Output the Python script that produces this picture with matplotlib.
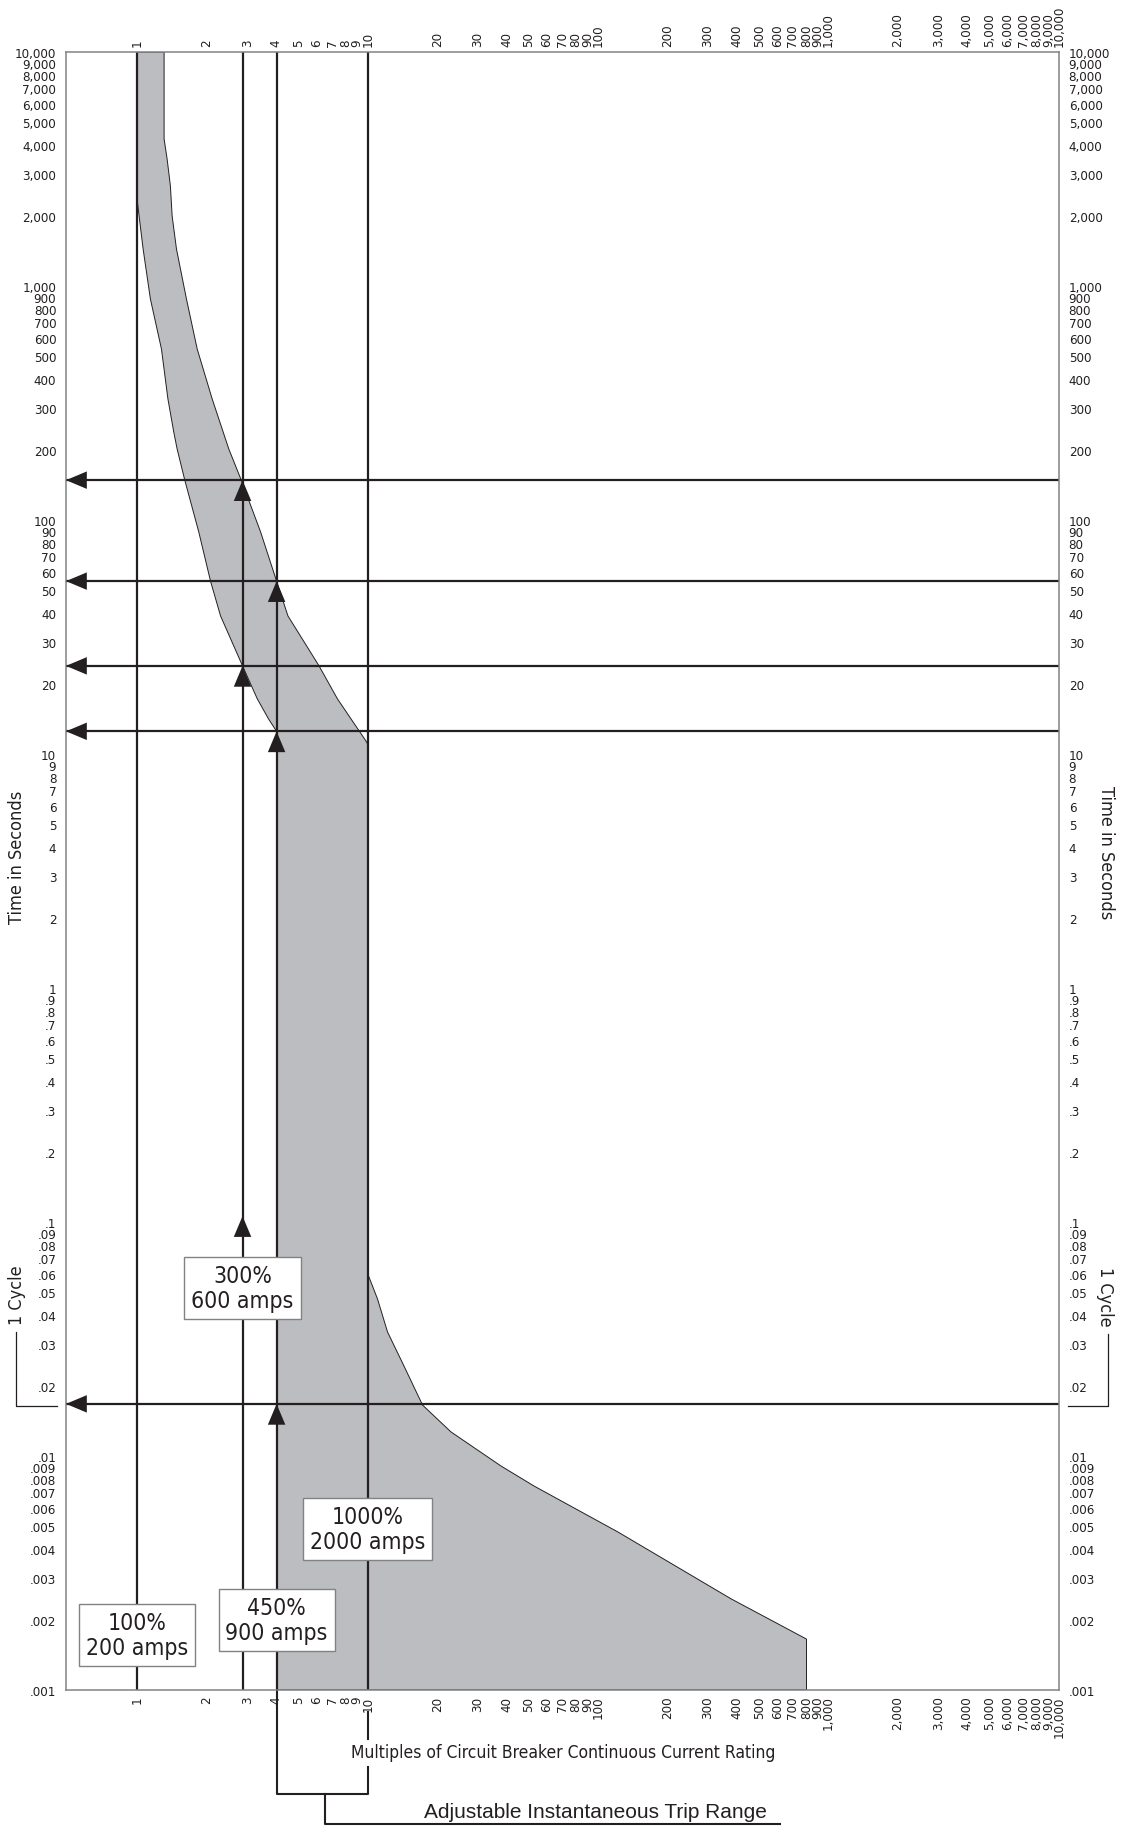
import matplotlib
matplotlib.use("Agg")
import matplotlib.pyplot as plt
from matplotlib.ticker import NullLocator

plt.rcParams['font.family'] = ['DejaVu Sans']
plt.rcParams['font.stretch'] = 'condensed'

W, H = 1127, 1833
DARK = "#231f20"
GREY = "#808285"
FILL = "#bcbdc0"

X_TICK_LABELS = ["1", "2", "3", "4", "5", "6", "7", "8", "9",
                 "10", "20", "30", "40", "50", "60", "70", "80", "90",
                 "100", "200", "300", "400", "500", "600", "700", "800", "900",
                 "1,000", "2,000", "3,000", "4,000", "5,000", "6,000", "7,000", "8,000", "9,000",
                 "10,000"]
Y_TICK_LABELS = [".001", ".002", ".003", ".004", ".005", ".006", ".007", ".008", ".009",
                 ".01", ".02", ".03", ".04", ".05", ".06", ".07", ".08", ".09",
                 ".1", ".2", ".3", ".4", ".5", ".6", ".7", ".8", ".9",
                 "1", "2", "3", "4", "5", "6", "7", "8", "9",
                 "10", "20", "30", "40", "50", "60", "70", "80", "90",
                 "100", "200", "300", "400", "500", "600", "700", "800", "900",
                 "1,000", "2,000", "3,000", "4,000", "5,000", "6,000", "7,000", "8,000", "9,000",
                 "10,000"]

# minimum trip curve (left edge of band), top to bottom
min_x = [1.0, 1.0, 1.059, 1.139, 1.272, 1.357, 1.438, 1.488, 1.606, 1.847, 2.077, 2.296, 2.86, 3.315, 3.712, 4.02, 4.02]
min_t = [10000, 2290, 1439, 880, 538, 329, 238, 201, 148, 88.9, 54.8, 38.9, 23.8, 17.2, 14.1, 12.5, 0.001]

# maximum trip curve (right edge of band), top to bottom
max_x = [1.306, 1.306, 1.346, 1.391, 1.415, 1.478, 1.633, 1.818, 2.112, 2.494, 2.824, 3.426, 4.02, 4.503,
         6.143, 7.385, 9.80, 10, 10, 11.02, 12.18, 14.34, 17.29, 22.95, 37.87, 52.7, 122, 378, 802, 802]
max_t = [10000, 4250, 3490, 2675, 1996, 1439, 880, 538, 329, 201, 148, 88.9, 54.8, 38.9,
         23.8, 17.2, 11.4, 11.0, 0.060, 0.0469, 0.0339, 0.0243, 0.0165, 0.01268, 0.00906, 0.00744,
         0.00473, 0.00245, 0.00165, 0.001]

# settings (multiples) and the trip times they point to
setting_x = [1.0, 2.86, 4.02, 10.0]
trip_t = [148, 54.8, 23.8, 12.5, 0.0167]
up_arrow_x = [2.86, 2.86, 2.86, 4.02, 4.02, 4.02]
up_arrow_t = [148, 23.8, 0.106, 54.8, 12.5, 0.0167]

box_text = ["100%\n200 amps", "300%\n600 amps", "450%\n900 amps", "1000%\n2000 amps"]
box_x = [1.0, 2.86, 4.02, 10.0]
box_t = [0.00172, 0.0522, 0.00199, 0.00488]


def fx(px):
    return px / W


def fy(py):
    return 1 - py / H


fig = plt.figure(figsize=(W / 100, H / 100), dpi=100)
ax = fig.add_axes([fx(66), fy(1691), fx(1059) - fx(66), fy(53) - fy(1691)])
ax.set_xscale("log")
ax.set_yscale("log")

# shaded band
ax.fill(min_x + max_x[::-1], min_t + max_t[::-1], facecolor=FILL, edgecolor=DARK, lw=0.7, zorder=1)

for x in setting_x:
    ax.axvline(x, color=DARK, lw=1.6, zorder=2)
for t in trip_t:
    ax.axhline(t, color=DARK, lw=1.6, zorder=2)

head = dict(arrowstyle="-|>,head_length=1.0,head_width=0.42", mutation_scale=15,
            color=DARK, lw=0, shrinkA=0, shrinkB=0)
for t in trip_t:
    ax.annotate("", xy=(0, t), xycoords=("axes fraction", "data"),
                xytext=(17, 0), textcoords="offset points", arrowprops=head, zorder=3)
for x, t in zip(up_arrow_x, up_arrow_t):
    ax.annotate("", xy=(x, t), xycoords="data",
                xytext=(0, -17), textcoords="offset points", arrowprops=head, zorder=3)

for s, x, t in zip(box_text, box_x, box_t):
    ax.text(x, t, s, ha="center", va="center", fontsize=16.5, color=DARK, linespacing=1.1, zorder=5,
            bbox=dict(boxstyle="square,pad=0.3", facecolor="white", edgecolor=GREY, lw=1.0))

xt = [float(s.replace(",", "")) for s in X_TICK_LABELS]
yt = [float(s.replace(",", "")) for s in Y_TICK_LABELS]
ax.set_xticks(xt, X_TICK_LABELS)
ax.set_yticks(yt, Y_TICK_LABELS)
ax.xaxis.set_minor_locator(NullLocator())
ax.yaxis.set_minor_locator(NullLocator())
ax.set_xlim(0.49, 10000)
ax.set_ylim(0.001, 10000)
ax.tick_params(axis="x", which="both", length=0, top=True, labeltop=True, labelrotation=90,
               labelsize=9.5, colors=DARK, pad=4)
ax.tick_params(axis="y", which="both", length=0, right=True, labelright=True,
               labelsize=9.5, colors=DARK, pad=7)
for sp in ax.spines.values():
    sp.set_color(GREY)
    sp.set_linewidth(1.1)

# axis titles
fig.text(fx(17), fy(857), "Time in Seconds", rotation=90, ha="center", va="center", fontsize=13, color=DARK)
fig.text(fx(1106), fy(853), "Time in Seconds", rotation=270, ha="center", va="center", fontsize=13, color=DARK)
fig.text(fx(563), fy(1753), "Multiples of Circuit Breaker Continuous Current Rating",
         ha="center", va="center", fontsize=12.5, color=DARK)

# 1 cycle brackets
fig.text(fx(17), fy(1295), "1 Cycle", rotation=90, ha="center", va="center", fontsize=13, color=DARK)
fig.text(fx(1105), fy(1297), "1 Cycle", rotation=270, ha="center", va="center", fontsize=13, color=DARK)
fig.add_artist(plt.Line2D([fx(16), fx(16), fx(57)], [fy(1333), fy(1407), fy(1407)], color=DARK, lw=0.9))
fig.add_artist(plt.Line2D([fx(1108), fx(1108), fx(1068)], [fy(1335), fy(1407), fy(1407)], color=DARK, lw=0.9))

# adjustable instantaneous trip range bracket below the axis
below = matplotlib.transforms.blended_transform_factory(ax.transData, fig.transFigure)
rng_lo, rng_hi, rng_mid, rng_end = 4.02, 10.0, 6.5, 618
ax.plot([rng_lo, rng_lo, rng_hi, rng_hi], [fy(1691), fy(1795), fy(1795), fy(1768)],
        color=DARK, lw=1.5, transform=below, clip_on=False)
ax.plot([rng_hi, rng_hi], [fy(1740), fy(1713)], color=DARK, lw=1.5, transform=below, clip_on=False)
ax.plot([rng_mid, rng_mid, rng_end], [fy(1795), fy(1825), fy(1825)],
        color=DARK, lw=1.5, transform=below, clip_on=False)
fig.text(fx(595), fy(1822), "Adjustable Instantaneous Trip Range", ha="center", va="bottom",
         fontsize=15, color=DARK, family=["Liberation Sans", "DejaVu Sans"], stretch="normal")

fig.savefig("out.png", dpi=100, facecolor="white")
